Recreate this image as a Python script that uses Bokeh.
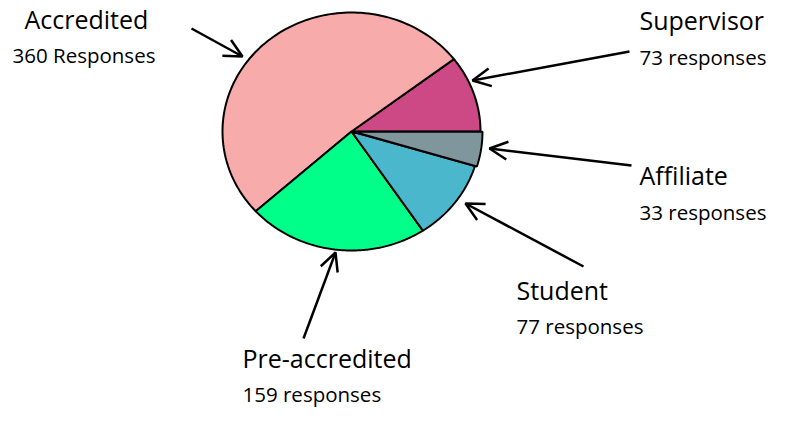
import numpy as np
from bokeh.plotting import figure
from bokeh.models import Range1d, Arrow, OpenHead, ColumnDataSource
from bokeh.core.properties import value
from bokeh.embed import file_html
from bokeh.resources import INLINE

# Data (pie order, counter-clockwise from 3 o'clock)
categories = ["Supervisor", "Accredited", "Pre-accredited", "Student", "Affiliate"]
responses = [73, 360, 159, 77, 33]
sub_labels = ["73 responses", "360 Responses", "159 responses", "77 responses", "33 responses"]
colors = ["#CC4985", "#F8ABAB", "#00FF88", "#4AB7CC", "#7F979C"]
explode = [0, 0, 0, 0, 2]

# Layout (pixel coordinates)
cx, cy, rx, ry = 351, 131, 129, 119
label_x = [639, 24, 242, 516, 639]
label_y = [19, 18, 357, 289, 174]
sub_x = [639, 12, 242, 516, 639]
sub_y = [56, 54, 393, 325, 211]
arrow_from = [(629, 51), (191, 28), (303, 338), (583, 266), (631, 165)]
arrow_to = [(472, 80), (242, 56), (335, 252), (465, 203), (489, 148)]

W, H = 769, 408
p = figure(width=W, height=H, output_backend="svg", toolbar_location=None,
           x_range=Range1d(0, W), y_range=Range1d(H, 0), min_border=0)
p.axis.visible = False
p.grid.visible = False
p.outline_line_color = None
p.background_fill_color = "white"

total = float(sum(responses))
angles = np.cumsum([0] + [v / total * 2 * np.pi for v in responses])
xs, ys = [], []
for i in range(len(responses)):
    a0, a1 = angles[i], angles[i + 1]
    mid = (a0 + a1) / 2
    ox = explode[i] * np.cos(mid)
    oy = -explode[i] * np.sin(mid)
    t = np.linspace(a0, a1, 120)
    px = np.concatenate([[cx], cx + rx * np.cos(t)]) + ox
    py = np.concatenate([[cy], cy - ry * np.sin(t)]) + oy
    xs.append(list(px))
    ys.append(list(py))

src = ColumnDataSource(dict(xs=xs, ys=ys, color=colors))
p.patches("xs", "ys", source=src, fill_color="color", line_color="black", line_width=2)

p.text(x=label_x, y=label_y, text=categories, text_font=value("Open Sans"),
       text_font_size=value("25px"), text_baseline="alphabetic", text_align="left",
       text_color="black")
p.text(x=sub_x, y=sub_y, text=sub_labels, text_font=value("Open Sans"),
       text_font_size=value("20.5px"), text_baseline="alphabetic", text_align="left",
       text_color="black")

for (x0, y0), (x1, y1) in zip(arrow_from, arrow_to):
    p.add_layout(Arrow(x_start=x0, y_start=y0, x_end=x1, y_end=y1, line_width=2.5,
                       line_color="black",
                       end=OpenHead(size=18, line_width=2.5, line_color="black")))

open("out.html", "w").write(file_html(p, INLINE))
